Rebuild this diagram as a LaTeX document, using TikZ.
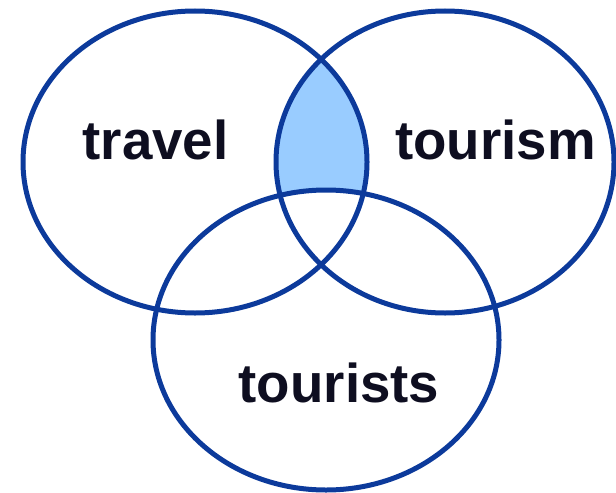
\documentclass[tikz,border=0pt]{standalone}
\usepackage{fontspec}
\setmainfont{Liberation Sans}
\usepackage{tikz}
\usetikzlibrary{positioning}
\definecolor{ringblue}{RGB}{12,58,155}
\definecolor{lensblue}{RGB}{153,204,255}
\definecolor{inkdark}{RGB}{14,14,32}
\begin{document}
\begin{tikzpicture}[x=0.75pt,y=0.75pt,yscale=-1,xscale=1]
	\useasboundingbox (0,0) rectangle (616,492); %picture is 616 wide and 492 high
	
	%Shape: Lens between travel and tourism, outside tourists
	\begin{scope}
	\clip (195,162) ellipse [x radius=172, y radius=151];
	\clip (445,162) ellipse [x radius=169, y radius=151];
	\fill [lensblue] (0,0) rectangle (616,492);
	\fill [white] (326,340) ellipse [x radius=173, y radius=150];
	\end{scope}
	%Shape: Ellipse travel
	\draw [color=ringblue, line width=3.75] (195,162) ellipse [x radius=172, y radius=151];
	%Shape: Ellipse tourism
	\draw [color=ringblue, line width=3.75] (445,162) ellipse [x radius=169, y radius=151];
	%Shape: Ellipse tourists
	\draw [color=ringblue, line width=3.75] (326,340) ellipse [x radius=173, y radius=150];
	
	% Text Node
	\node [anchor=base, inner sep=0.75pt, text=inkdark, font=\fontsize{41}{49}\selectfont\bfseries] (travel) at (155.5,159) {travel};
	% Text Node
	\node [anchor=base, inner sep=0.75pt, text=inkdark, font=\fontsize{41}{49}\selectfont\bfseries] (tourism) at (495.5,159) {tourism};
	% Text Node
	\node [anchor=base, inner sep=0.75pt, text=inkdark, font=\fontsize{41}{49}\selectfont\bfseries] (tourists) at (339,402) {tourists};
\end{tikzpicture}
\end{document}
